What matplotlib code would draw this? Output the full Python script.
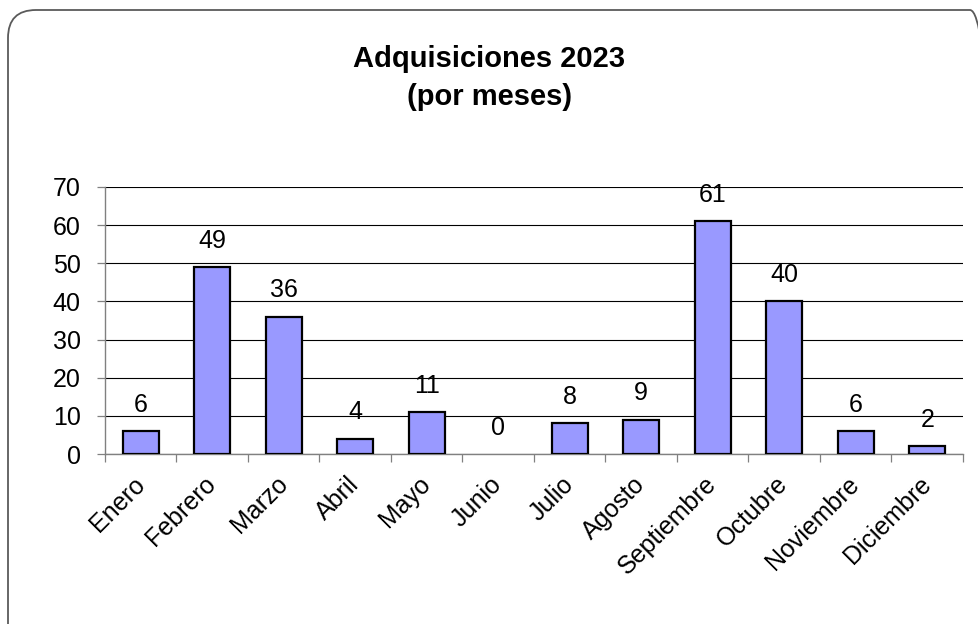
import numpy as np
import matplotlib.pyplot as plt
from matplotlib.patches import FancyBboxPatch

# data
meses = ['Enero', 'Febrero', 'Marzo', 'Abril', 'Mayo', 'Junio', 'Julio',
         'Agosto', 'Septiembre', 'Octubre', 'Noviembre', 'Diciembre']
valores = [6, 49, 36, 4, 11, 0, 8, 9, 61, 40, 6, 2]
yticks = [0, 10, 20, 30, 40, 50, 60, 70]

plt.rcParams['font.family'] = ['Liberation Sans', 'DejaVu Sans']

fig = plt.figure(figsize=(9.79, 6.24), dpi=100)
fig.patch.set_facecolor('white')

# rounded outer frame (display pixels)
frame = FancyBboxPatch((8, -40), 990, 614 + 40, boxstyle='round,pad=0,rounding_size=28',
                       transform=None, facecolor='none', edgecolor='#5a5a5a', linewidth=1.3)
fig.patches.append(frame)

ax = fig.add_axes([105 / 979, 1 - 454 / 624, (963 - 105) / 979, (454 - 187) / 624])
ax.set_facecolor('white')

x = np.arange(len(meses))
# no outline for an empty month
anchos = [1.6 if v > 0 else 0 for v in valores]
ax.bar(x, valores, width=0.51, color='#9999FF', edgecolor='black', linewidth=anchos, zorder=3)

for xi, v in zip(x, valores):
    ax.annotate(str(v), (xi, v), xytext=(0, 19), textcoords='offset points',
                ha='center', va='center', fontsize=18, color='black')

ax.set_xlim(-0.5, len(meses) - 0.5)
ax.set_ylim(0, 70)
ax.set_yticks(yticks)
ax.yaxis.grid(True, color='black', linewidth=0.8, zorder=0)
ax.set_axisbelow(True)

# boundaries get the tick marks, centres get the labels
ax.set_xticks(np.arange(-0.5, len(meses), 1.0))
ax.set_xticklabels([])
ax.set_xticks(x, minor=True)
ax.set_xticklabels(meses, minor=True, rotation=45, ha='right', va='center',
                   rotation_mode='anchor', fontsize=18)
ax.tick_params(axis='x', which='major', length=6, width=0.9, color='#808080', direction='out')
ax.tick_params(axis='x', which='minor', length=0, pad=19)
ax.tick_params(axis='y', length=5.5, width=0.9, color='#808080', labelsize=18, pad=12)

for side in ['top', 'right']:
    ax.spines[side].set_visible(False)
for side in ['left', 'bottom']:
    ax.spines[side].set_color('#808080')
    ax.spines[side].set_linewidth(1.0)

fig.text(0.5, 1 - 78 / 624, 'Adquisiciones 2023\n(por meses)', ha='center', va='center',
         fontsize=21, fontweight='bold', linespacing=1.45)

fig.savefig('out.png', dpi=100)
